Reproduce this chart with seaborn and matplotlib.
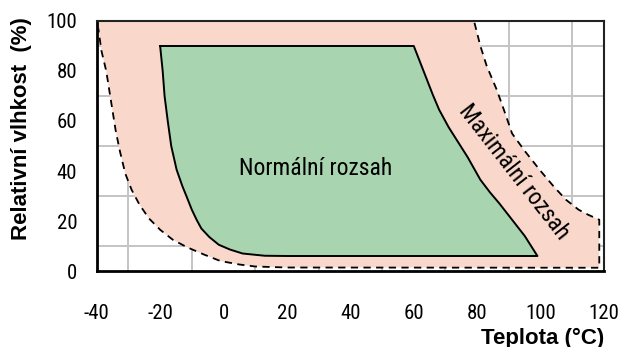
import matplotlib
matplotlib.use('Agg')
import matplotlib.pyplot as plt
import seaborn as sns
import pandas as pd

# Maximální rozsah (outer area, dashed outline)
max_x = [-40, 79, 81, 83, 86, 88, 91, 95, 100, 104, 108, 112, 115, 118.5, 118.5,
         20, 10, 5, -1, -6, -11.5, -16, -20, -23.5, -26.5, -29, -31, -32.7, -34, -35, -36, -37, -38.5, -39.5]
max_y = [100, 100, 90, 82, 73, 66, 55, 48, 40, 34, 28.5, 24.5, 22.5, 20.5, 1.3,
         1.4, 1.8, 2.6, 4, 6.5, 9.5, 12.5, 16.5, 21, 26.5, 32.5, 39, 48, 56, 64, 72, 80, 88, 97]

# Normální rozsah (inner area, solid outline)
norm_x = [-20, 60, 62, 64, 66, 68, 71, 74, 77, 81, 84, 87, 91, 95, 99,
          20, 13, 6, 2, -1.5, -4.5, -7, -8.5, -10, -11.6, -13, -14.8, -16.5, -17.6, -18.6, -19.2, -20]
norm_y = [90, 90, 83.5, 77, 70.5, 64.5, 57.5, 51.5, 45.5, 36.5, 31.5, 27, 20.5, 14, 6,
          6, 6.1, 7, 8.6, 10.5, 13.6, 17, 20.5, 24.5, 29.6, 34, 40.5, 50, 60, 70, 80, 90]

x_ticks = [-40, -20, 0, 20, 40, 60, 80, 100, 120]
y_ticks = [0, 20, 40, 60, 80, 100]

sns.set_style('white')
plt.rcParams['font.family'] = ['Roboto Condensed', 'Liberation Sans', 'DejaVu Sans']
plt.rcParams['axes.unicode_minus'] = False
for key in ['text.color', 'axes.labelcolor', 'xtick.color', 'ytick.color']:
    plt.rcParams[key] = 'black'
bold_family = ['Liberation Sans', 'DejaVu Sans']

fig = plt.figure(figsize=(6.24, 3.47), dpi=100)
ax = fig.add_axes([0.155, 0.219, 0.813, 0.7205])

# grid every 10 units
ax.set_xticks(range(-40, 121, 10), minor=True)
ax.set_yticks(range(0, 101, 10), minor=True)
ax.grid(True, which='minor', color='#c4c4c4', linewidth=1.4, zorder=0)
ax.set_axisbelow(True)

ax.fill(max_x, max_y, color='#f9d8cb', zorder=1, linewidth=0)
ax.fill(norm_x, norm_y, color='#a8d4af', zorder=2, linewidth=0)

max_df = pd.DataFrame({'x': max_x, 'y': max_y})
sns.lineplot(data=max_df, x='x', y='y', sort=False, estimator=None, ax=ax,
             color='black', linewidth=1.3, linestyle=(0, (4, 3)), zorder=3)
norm_df = pd.DataFrame({'x': norm_x + [norm_x[0]], 'y': norm_y + [norm_y[0]]})
sns.lineplot(data=norm_df, x='x', y='y', sort=False, estimator=None, ax=ax,
             color='black', linewidth=1.4, zorder=4)

ax.set_xlim(-40, 120)
ax.set_ylim(0, 100)
ax.set_xticks(x_ticks)
ax.set_yticks(y_ticks)
ax.tick_params(axis='x', which='major', direction='out', length=6, width=1.8,
               pad=18, labelsize=15)
ax.tick_params(axis='y', which='major', length=0, pad=14, labelsize=15)
ax.tick_params(which='minor', length=0)

for side in ['left', 'bottom']:
    ax.spines[side].set_linewidth(2)
    ax.spines[side].set_color('black')
for side in ['top', 'right']:
    ax.spines[side].set_linewidth(1.5)
    ax.spines[side].set_color('#222222')
for sp in ax.spines.values():
    sp.set_zorder(5)

ax.set_ylabel('Relativní vlhkost  (%)', fontsize=16, fontweight='bold', family=bold_family)
ax.yaxis.set_label_coords(-0.127, 0.568)
ax.set_xlabel('Teplota (°C)', fontsize=16, fontweight='bold', family=bold_family, loc='right')
ax.xaxis.label.set_va('baseline')
ax.xaxis.set_label_coords(1.0, -0.29)

ax.text(29, 38.4, 'Normální rozsah', fontsize=17, ha='center', va='baseline', zorder=6)
ax.text(91.6, 39.8, 'Maximální rozsah', fontsize=17, ha='center', va='center',
        rotation=-52, rotation_mode='anchor', zorder=6)

fig.savefig('out.png', dpi=100)
